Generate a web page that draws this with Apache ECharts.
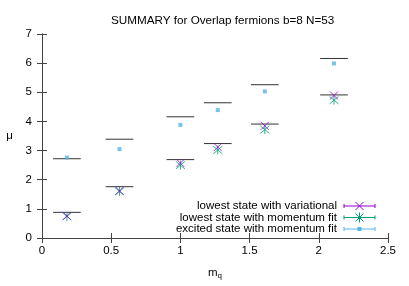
<!DOCTYPE html>
<html><head><meta charset="utf-8">
<script src="https://cdn.jsdelivr.net/npm/echarts@6/dist/echarts.min.js"></script>
<style>html,body{margin:0;padding:0;background:#fff}#c{width:409px;height:286px}</style>
</head><body><div id="c"></div>
<script>
const mq = [0.18, 0.56, 1.0, 1.27, 1.61, 2.11];
const variational = [0.76, 1.62, 2.57, 3.12, 3.85, 4.89];
const momentumFit = [0.74, 1.60, 2.50, 3.02, 3.72, 4.73];
const excitedFit = [2.76, 3.05, 3.88, 4.39, 5.03, 5.99];
const refLower = [0.88, 1.76, 2.69, 3.24, 3.91, 4.91];
const refUpper = [2.72, 3.39, 4.16, 4.64, 5.26, 6.16];
const segHalfWidth = 0.1;
const xTicks = [0, 0.5, 1, 1.5, 2, 2.5];
const yTicks = [0, 1, 2, 3, 4, 5, 6, 7];
const seriesNames = ['lowest state with variational', 'lowest state with momentum fit', 'excited state with momentum fit'];
const colors = ['#9400d3', '#009e73', '#56b4e9'];

const FONT = "'Liberation Sans', Arial, sans-serif";
const chart = echarts.init(document.getElementById('c'), null, {renderer: 'canvas'});

const crossPath = 'path://M0,0L10,10M10,0L0,10';
const starPath = 'path://M0,0L10,10M10,0L0,10M5,-1L5,11';

function pairs(ys) { return mq.map((x, i) => [x, ys[i]]); }

function segSeries(ys) {
  return {
    type: 'custom', silent: true, z: 2,
    data: pairs(ys),
    renderItem: function (params, api) {
      const x = api.value(0), y = api.value(1);
      const p1 = api.coord([x - segHalfWidth, y]);
      const p2 = api.coord([x + segHalfWidth, y]);
      return {type: 'line', shape: {x1: p1[0], y1: p1[1], x2: p2[0], y2: p2[1]},
        style: {stroke: '#333', lineWidth: 1}};
    }
  };
}

const axisLineStyle = {color: '#444', width: 1};
const tickStyle = {inside: true, length: 5, lineStyle: {color: '#444', width: 1}};

// legend graphics
const legendGraphics = [];
const legendX1 = 344, legendX2 = 375, legendTextRight = 337;
const legendYs = [206, 217.5, 229];
for (let i = 0; i < 3; i++) {
  const y = legendYs[i], c = colors[i];
  legendGraphics.push({type: 'text', x: legendTextRight, y: y,
    style: {text: seriesNames[i], fill: '#000', font: '11.5px ' + FONT, textAlign: 'right', textVerticalAlign: 'middle'}});
  legendGraphics.push({type: 'line', shape: {x1: legendX1, y1: y, x2: legendX2, y2: y}, style: {stroke: c, lineWidth: 1}});
  legendGraphics.push({type: 'line', shape: {x1: legendX1, y1: y - 2, x2: legendX1, y2: y + 2}, style: {stroke: c, lineWidth: 1}});
  legendGraphics.push({type: 'line', shape: {x1: legendX2, y1: y - 2, x2: legendX2, y2: y + 2}, style: {stroke: c, lineWidth: 1}});
  const mx = (legendX1 + legendX2) / 2;
  if (i === 0) {
    legendGraphics.push({type: 'polyline', shape: {points: [[mx - 4, y - 4], [mx + 4, y + 4]]}, style: {stroke: c, lineWidth: 1}});
    legendGraphics.push({type: 'polyline', shape: {points: [[mx - 4, y + 4], [mx + 4, y - 4]]}, style: {stroke: c, lineWidth: 1}});
  } else if (i === 1) {
    legendGraphics.push({type: 'polyline', shape: {points: [[mx - 4, y - 4], [mx + 4, y + 4]]}, style: {stroke: c, lineWidth: 1}});
    legendGraphics.push({type: 'polyline', shape: {points: [[mx - 4, y + 4], [mx + 4, y - 4]]}, style: {stroke: c, lineWidth: 1}});
    legendGraphics.push({type: 'polyline', shape: {points: [[mx, y - 5], [mx, y + 5]]}, style: {stroke: c, lineWidth: 1}});
  } else {
    legendGraphics.push({type: 'rect', shape: {x: mx - 2, y: y - 2, width: 4, height: 4}, style: {fill: c}});
  }
}

const option = {
  backgroundColor: '#fff',
  animation: false,
  textStyle: {fontFamily: FONT},
  title: {text: 'SUMMARY for Overlap fermions b=8 N=53', left: 106, top: 10,
    textStyle: {fontSize: 11.7, fontWeight: 'normal', color: '#000', fontFamily: FONT}},
  grid: {left: 42, right: 21, top: 34, bottom: 48, show: false},
  xAxis: [{
    type: 'value', min: 0, max: 2.5, interval: 0.5, position: 'bottom',
    name: '{m|m}{q|q}', nameLocation: 'middle', nameGap: 28,
    nameTextStyle: {rich: {m: {fontSize: 11.5, color: '#000', fontFamily: FONT}, q: {fontSize: 8, color: '#000', verticalAlign: 'bottom', padding: [6, 0, 0, 0], fontFamily: FONT}}},
    axisLine: {show: true, lineStyle: axisLineStyle},
    axisTick: tickStyle,
    axisLabel: {color: '#000', fontSize: 11.5, margin: 7, fontFamily: FONT,
      formatter: v => (xTicks.indexOf(v) >= 0 ? String(v) : '')},
    splitLine: {show: false}
  }, {
    type: 'value', min: 0, max: 2.5, interval: 0.5, position: 'top',
    axisLine: {show: true, lineStyle: axisLineStyle}, axisTick: tickStyle,
    axisLabel: {show: false}, splitLine: {show: false}
  }],
  yAxis: [{
    type: 'value', min: 0, max: 7, interval: 1, position: 'left',
    name: 'μ', nameLocation: 'middle', nameGap: 29, nameRotate: 0,
    nameTextStyle: {fontSize: 11.5, color: '#000', fontFamily: FONT},
    axisLine: {show: true, lineStyle: axisLineStyle},
    axisTick: tickStyle,
    axisLabel: {color: '#000', fontSize: 11.5, margin: 10, fontFamily: FONT,
      formatter: v => (yTicks.indexOf(v) >= 0 ? String(v) : '')},
    splitLine: {show: false}
  }, {
    type: 'value', min: 0, max: 7, interval: 1, position: 'right',
    axisLine: {show: true, lineStyle: axisLineStyle}, axisTick: tickStyle,
    axisLabel: {show: false}, splitLine: {show: false}
  }],
  graphic: legendGraphics,
  series: [
    segSeries(refLower),
    segSeries(refUpper),
    {name: seriesNames[1], type: 'scatter', data: pairs(momentumFit), symbol: starPath, symbolSize: 9, z: 3,
      itemStyle: {color: 'transparent', borderColor: colors[1], borderWidth: 1}},
    {name: seriesNames[0], type: 'scatter', data: pairs(variational), symbol: crossPath, symbolSize: 8, z: 4,
      itemStyle: {color: 'transparent', borderColor: colors[0], borderWidth: 1}},
    {name: seriesNames[2], type: 'scatter', data: pairs(excitedFit), symbol: 'rect', symbolSize: 4, z: 5,
      itemStyle: {color: colors[2]}}
  ]
};
chart.setOption(option);
</script>
</body></html>
